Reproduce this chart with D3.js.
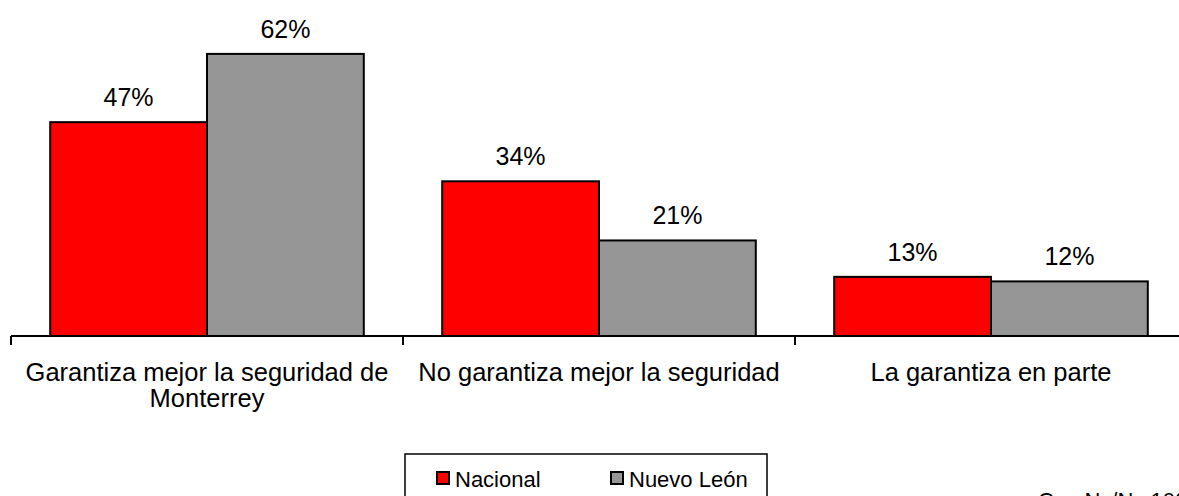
<!DOCTYPE html>
<html>
<head>
<meta charset="utf-8">
<script src="https://cdn.jsdelivr.net/npm/d3@7"></script>
<style>
  html, body { margin: 0; padding: 0; background: #fff; overflow: hidden; }
  svg { display: block; font-family: "Liberation Sans", Arial, sans-serif; }
</style>
</head>
<body>
<svg id="chart" width="1179" height="496"></svg>
<script>
// Categories (each label split into its display lines)
const categories = [
  "Garantiza mejor la seguridad de Monterrey",
  "No garantiza mejor la seguridad",
  "La garantiza en parte"
];
const categoryLines = [
  ["Garantiza mejor la seguridad de", "Monterrey"],
  ["No garantiza mejor la seguridad"],
  ["La garantiza en parte"]
];
const seriesNames = ["Nacional", "Nuevo León"];
const nacional = [47, 34, 13];
const nuevoLeon = [62, 21, 12];
const footnote = "Con Ns/Nc 100%";

const colors = { "Nacional": "#ff0000", "Nuevo León": "#969696" };

const svg = d3.select("#chart");
const baseY = 336;
const left = 11, catW = 392;

const x = d3.scaleBand()
  .domain(categories)
  .range([left, left + catW * categories.length])
  .paddingInner(0)
  .paddingOuter(0);

const x1 = d3.scaleBand()
  .domain(seriesNames)
  .range([0, x.bandwidth()])
  .paddingInner(0)
  .paddingOuter(0.25);

const y = d3.scaleLinear().domain([0, 70]).range([baseY, baseY - 4.55 * 70]);

const rows = categories.map((c, i) => ({
  cat: c,
  values: [
    { s: "Nacional", v: nacional[i] },
    { s: "Nuevo León", v: nuevoLeon[i] }
  ]
}));

const g = svg.append("g");

const groups = g.selectAll("g.cat").data(rows).join("g")
  .attr("class", "cat")
  .attr("transform", d => `translate(${x(d.cat)},0)`);

groups.selectAll("rect").data(d => d.values).join("rect")
  .attr("x", d => x1(d.s))
  .attr("y", d => y(d.v))
  .attr("width", x1.bandwidth())
  .attr("height", d => baseY - y(d.v))
  .attr("fill", d => colors[d.s])
  .attr("stroke", "#000")
  .attr("stroke-width", 2);

groups.selectAll("text.val").data(d => d.values).join("text")
  .attr("class", "val")
  .attr("x", d => x1(d.s) + x1.bandwidth() / 2)
  .attr("y", d => y(d.v) - 16)
  .attr("text-anchor", "middle")
  .attr("font-size", 25)
  .attr("fill", "#000")
  .text(d => d.v + "%");

// Category axis along the baseline
const axis = d3.axisBottom(x).tickSize(0).tickFormat("");
const axG = svg.append("g").attr("transform", `translate(0,${baseY})`).call(axis);
axG.select(".domain").attr("stroke", "#000").attr("stroke-width", 2)
  .attr("d", `M${left},0H${left + catW * categories.length}`);
axG.selectAll(".tick").remove();

// Tick marks at category boundaries
const bounds = d3.range(categories.length + 1).map(i => left + i * catW);
svg.append("g").selectAll("line").data(bounds).join("line")
  .attr("x1", d => d).attr("x2", d => d)
  .attr("y1", baseY).attr("y2", baseY + 9)
  .attr("stroke", "#000").attr("stroke-width", 2);

// Category labels
const lab = svg.append("g").selectAll("text").data(categories).join("text")
  .attr("x", d => x(d) + x.bandwidth() / 2)
  .attr("y", 381)
  .attr("text-anchor", "middle")
  .attr("font-size", 25.5)
  .attr("fill", "#000");
lab.each(function(d, i) {
  d3.select(this).selectAll("tspan").data(categoryLines[i]).join("tspan")
    .attr("x", x(d) + x.bandwidth() / 2)
    .attr("dy", (t, j) => j === 0 ? 0 : 26)
    .text(t => t);
});

// Legend
const leg = svg.append("g");
leg.append("rect")
  .attr("x", 405).attr("y", 454).attr("width", 362).attr("height", 60)
  .attr("fill", "#fff").attr("stroke", "#000").attr("stroke-width", 1.5);
const legX = [437, 611];
seriesNames.forEach((s, i) => {
  leg.append("rect")
    .attr("x", legX[i]).attr("y", 472).attr("width", 12).attr("height", 12)
    .attr("fill", colors[s]).attr("stroke", "#000").attr("stroke-width", 2);
  leg.append("text")
    .attr("x", legX[i] + 18).attr("y", 487)
    .attr("font-size", 22).attr("fill", "#000")
    .text(s);
});

// Footnote, partly below the visible edge
svg.append("text")
  .attr("x", 1038).attr("y", 508)
  .attr("font-size", 22).attr("fill", "#000")
  .text(footnote);
</script>
</body>
</html>
